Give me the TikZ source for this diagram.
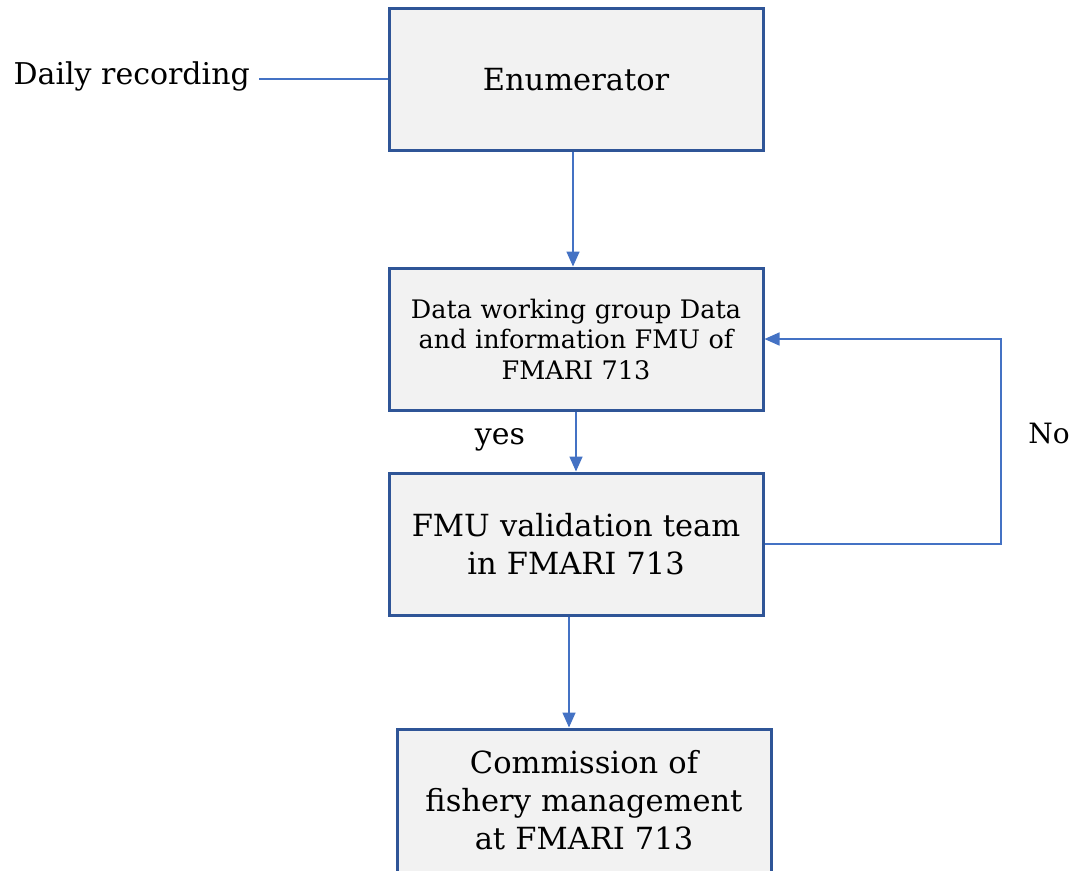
\documentclass[tikz,border=0pt]{standalone}
\usepackage{fontspec}
\setmainfont{DejaVu Serif}
\usetikzlibrary{arrows.meta,calc}
\definecolor{boxedge}{HTML}{2F5597}
\definecolor{boxfill}{HTML}{F2F2F2}
\definecolor{link}{HTML}{4472C4}
\tikzset{
  stagebox/.style={draw=boxedge, line width=3pt, fill=boxfill,
    minimum width=374pt, minimum height=142pt, text width=360pt,
    align=center, inner sep=0pt},
  bigtext/.style={font=\fontsize{30.5}{38}\selectfont},
  smalltext/.style={font=\fontsize{25.5}{30.5}\selectfont},
  labeltext/.style={font=\fontsize{30}{34}\selectfont, inner sep=0pt},
  link/.style={draw=link, line width=1.6pt},
  flow/.style={link, -{Triangle[length=15pt,width=13pt]}},
}
\begin{document}
\begin{tikzpicture}[x=1pt,y=-1pt]
  \useasboundingbox (0,0) rectangle (1075,870);

  % stages of the data flow
  \node[stagebox, bigtext] (enum) at (576,79.5) {Enumerator};
  \node[stagebox, smalltext] (data) at (576,339)
    {Data working group Data\\and information FMU of\\FMARI 713};
  \node[stagebox, bigtext] (fmu) at (576,544)
    {FMU validation team\\in FMARI 713};
  \node[stagebox, bigtext, minimum height=143pt] (comm) at (584,800.5)
    {Commission of\\fishery management\\at FMARI 713};

  % side labels
  \node[labeltext, anchor=east] (daily) at (250,76) {Daily recording};
  \node[labeltext] (yes) at (500,440) {yes};
  \node[labeltext, font=\fontsize{28}{34}\selectfont] (no) at (1049,433) {No};

  % connectors
  \coordinate (dailyend) at (259,79);
  \draw[link] (dailyend) -- (dailyend -| enum.west);

  \coordinate (e1) at ($(enum.south)+(-3,0)$);
  \draw[flow] (e1) -- (e1 |- data.north);

  \draw[flow] (data.south) -- (fmu.north);

  \coordinate (f1) at ($(fmu.south)+(-7,0)$);
  \draw[flow] (f1) -- (f1 |- comm.north);

  % feedback loop when validation fails
  \coordinate (loopx) at (1001,0);
  \draw[flow] (fmu.east) -- (fmu.east -| loopx) -- (data.east -| loopx) -- (data.east);
\end{tikzpicture}
\end{document}
